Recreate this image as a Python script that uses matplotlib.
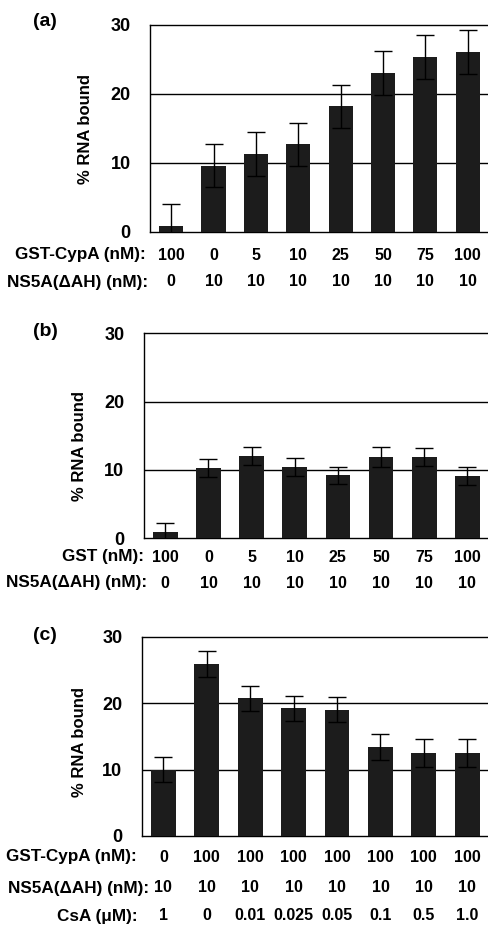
import numpy as np
import matplotlib
matplotlib.use("Agg")
import matplotlib.pyplot as plt
from matplotlib.transforms import blended_transform_factory

plt.rcParams['font.family'] = ['Liberation Sans', 'DejaVu Sans']

# panel (a)
a_vals = [0.8, 9.6, 11.3, 12.7, 18.2, 23.1, 25.4, 26.1]
a_err = [3.2, 3.1, 3.2, 3.1, 3.1, 3.2, 3.2, 3.2]
a_cypa = ['100', '0', '5', '10', '25', '50', '75', '100']
a_ns5a = ['0', '10', '10', '10', '10', '10', '10', '10']

# panel (b)
b_vals = [0.9, 10.3, 12.1, 10.4, 9.2, 11.9, 11.9, 9.1]
b_err = [1.3, 1.3, 1.3, 1.3, 1.3, 1.4, 1.3, 1.3]
b_gst = ['100', '0', '5', '10', '25', '50', '75', '100']
b_ns5a = ['0', '10', '10', '10', '10', '10', '10', '10']

# panel (c)
c_vals = [10.0, 25.9, 20.7, 19.2, 19.0, 13.4, 12.5, 12.5]
c_err = [1.9, 2.0, 1.9, 1.9, 1.9, 2.0, 2.1, 2.1]
c_cypa = ['0', '100', '100', '100', '100', '100', '100', '100']
c_ns5a = ['10', '10', '10', '10', '10', '10', '10', '10']
c_csa = ['1', '0', '0.01', '0.025', '0.05', '0.1', '0.5', '1.0']

W, H = 488, 926
fig = plt.figure(figsize=(W / 100, H / 100), dpi=100)


def fy(y):
    return 1 - y / H


def make_panel(left, top, bottom, vals, err, letter, letter_y, ylab_x, ylab_y, rows):
    ax = fig.add_axes([left / W, fy(bottom), (W - left) / W + 0.002, (bottom - top) / H])
    x = np.arange(len(vals))
    ax.bar(x, vals, width=0.57, color='#1c1c1c', zorder=3)
    ax.errorbar(x, vals, yerr=err, fmt='none', ecolor='black', elinewidth=1.0,
                capsize=6.5, capthick=1.0, zorder=4)
    ax.set_xlim(-0.5, len(vals) - 0.5)
    ax.set_ylim(0, 30)
    ax.set_yticks([0, 10, 20, 30])
    ax.set_xticks([])
    ax.tick_params(axis='y', length=0, pad=14, labelsize=13)
    for lab in ax.get_yticklabels():
        lab.set_fontweight('bold')
    for yv in [10, 20]:
        ax.axhline(yv, color='black', lw=1.0, zorder=1)
    for s in ax.spines.values():
        s.set_linewidth(1.0)
    fig.text(45 / W, fy(letter_y), letter, ha='center', va='center',
             fontsize=14, fontweight='bold')
    fig.text(ylab_x / W, fy(ylab_y), '% RNA bound', rotation=90, ha='center',
             va='center', fontsize=12, fontweight='bold')
    tr = blended_transform_factory(ax.transData, fig.transFigure)
    for name, labels, ry, rx in rows:
        fig.text(rx / W, fy(ry), name, ha='right', va='center',
                 fontsize=12.3, fontweight='bold')
        for i, t in enumerate(labels):
            ax.text(i, fy(ry), t, transform=tr, ha='center', va='center',
                    fontsize=11.5, fontweight='bold', clip_on=False)
    return ax


make_panel(150, 25, 232, a_vals, a_err, '(a)', 22, 86, 129,
           [('GST-CypA (nM):', a_cypa, 255, 146),
            ('NS5A(\u0394AH) (nM):', a_ns5a, 282, 148)])

make_panel(143.7, 333.3, 538.3, b_vals, b_err, '(b)', 332, 80, 446,
           [('GST (nM):', b_gst, 557, 144),
            ('NS5A(\u0394AH) (nM):', b_ns5a, 583, 147)])

make_panel(141.7, 636.7, 836, c_vals, c_err, '(c)', 635, 79, 742,
           [('GST-CypA (nM):', c_cypa, 857, 137),
            ('NS5A(\u0394AH) (nM):', c_ns5a, 888, 149),
            ('CsA (\u03bcM):', c_csa, 916, 138)])

fig.savefig('out.png', dpi=100)
